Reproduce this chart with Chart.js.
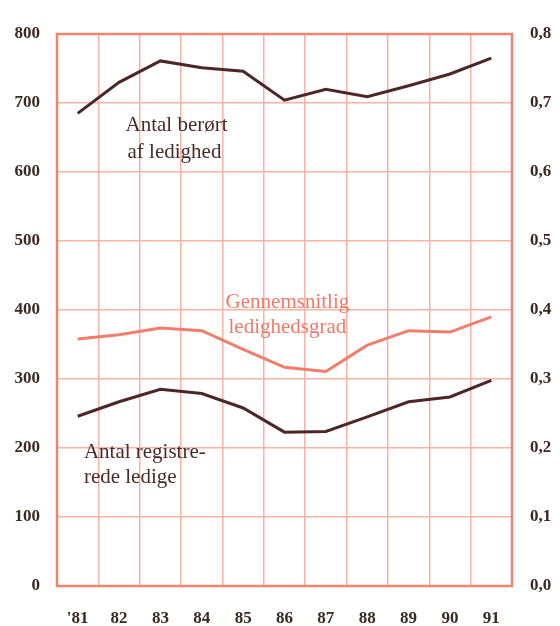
<!DOCTYPE html>
<html>
<head>
<meta charset="utf-8">
<script src="https://cdn.jsdelivr.net/npm/chart.js@4"></script>
<style>
  html, body { margin: 0; padding: 0; background: #fff; }
  #wrap { width: 560px; height: 626px; }
</style>
</head>
<body>
<div id="wrap"><canvas id="c" width="560" height="626"></canvas></div>
<script>
// --- data (1000 personer / ledighedsgrad) ---
const years = ["'81", '82', '83', '84', '85', '86', '87', '88', '89', '90', '91'];
const beroert = [685, 730, 761, 751, 746, 704, 720, 709, 725, 742, 765];
const registrerede = [246, 267, 285, 279, 258, 223, 224, 245, 267, 274, 298];
const ledighedsgrad = [0.358, 0.364, 0.374, 0.370, 0.343, 0.317, 0.311, 0.349, 0.370, 0.368, 0.390];
const leftTicks = [0, 100, 200, 300, 400, 500, 600, 700, 800];
const rightTicks = [0, 0.1, 0.2, 0.3, 0.4, 0.5, 0.6, 0.7, 0.8];

const DARK = '#4d2629';
const SALMON = '#f27d6a';
const GRID = '#f7b3a4';
const FRAME = '#f0846e';
const TEXT = '#3a2a22';
const serif = '"Liberation Serif", "DejaVu Serif", serif';

// labels inside the plot, placed by category index / left-axis value
const notes = [
  { text: 'Antal berørt', x: 2.39, y: 668, color: '#4a2a28', align: 'center' },
  { text: 'af ledighed', x: 2.34, y: 629, color: '#4a2a28', align: 'center' },
  { text: 'Gennemsnitlig', x: 5.07, y: 411, color: '#f07a68', align: 'center' },
  { text: 'ledighedsgrad', x: 5.07, y: 375, color: '#f07a68', align: 'center' },
  { text: 'Antal registre-', x: 0.15, y: 193, color: '#4a2a28', align: 'left' },
  { text: 'rede ledige', x: 0.15, y: 157, color: '#4a2a28', align: 'left' }
];

const framePlugin = {
  id: 'frame',
  beforeDatasetsDraw(chart) {
    const { ctx, chartArea: a } = chart;
    ctx.save();
    ctx.strokeStyle = FRAME;
    ctx.lineWidth = 2.5;
    ctx.strokeRect(a.left, a.top, a.right - a.left, a.bottom - a.top);
    ctx.restore();
  },
  afterDatasetsDraw(chart) {
    const { ctx } = chart;
    const xs = chart.scales.x, ys = chart.scales.y;
    ctx.save();
    ctx.font = '21px ' + serif;
    ctx.textBaseline = 'middle';
    notes.forEach(n => {
      ctx.fillStyle = n.color;
      ctx.textAlign = n.align;
      ctx.fillText(n.text, xs.getPixelForValue(n.x), ys.getPixelForValue(n.y));
    });
    ctx.restore();
  }
};

new Chart(document.getElementById('c'), {
  type: 'line',
  data: {
    labels: years,
    datasets: [
      { data: beroert, yAxisID: 'y', borderColor: DARK, borderWidth: 3, pointRadius: 0, tension: 0 },
      { data: registrerede, yAxisID: 'y', borderColor: DARK, borderWidth: 3, pointRadius: 0, tension: 0 },
      { data: ledighedsgrad, yAxisID: 'y2', borderColor: SALMON, borderWidth: 3, pointRadius: 0, tension: 0 }
    ]
  },
  options: {
    responsive: false,
    animation: false,
    layout: { padding: { top: 34, left: 0, right: 0, bottom: 0 } },
    plugins: { legend: { display: false }, tooltip: { enabled: false } },
    scales: {
      x: {
        offset: true,
        grid: { offset: true, color: GRID, lineWidth: 1.5, drawTicks: false },
        border: { display: false },
        ticks: { color: TEXT, padding: 22, font: { family: serif, size: 17, weight: 'bold' }, maxRotation: 0 },
        afterFit: s => { s.height = 40; }
      },
      y: {
        position: 'left',
        min: 0, max: 800,
        afterBuildTicks: s => { s.ticks = leftTicks.map(v => ({ value: v })); },
        grid: { color: GRID, lineWidth: 1.5, drawTicks: false },
        border: { display: false },
        ticks: { color: TEXT, padding: 17, font: { family: serif, size: 17, weight: 'bold' } },
        afterFit: s => { s.width = 57; }
      },
      y2: {
        position: 'right',
        min: 0, max: 0.8,
        afterBuildTicks: s => { s.ticks = rightTicks.map(v => ({ value: v })); },
        grid: { display: false, drawTicks: false },
        border: { display: false },
        ticks: {
          color: TEXT, padding: 18, font: { family: serif, size: 17, weight: 'bold' },
          callback: v => v.toFixed(1).replace('.', ',')
        },
        afterFit: s => { s.width = 48; }
      }
    }
  },
  plugins: [framePlugin]
});
</script>
</body>
</html>
